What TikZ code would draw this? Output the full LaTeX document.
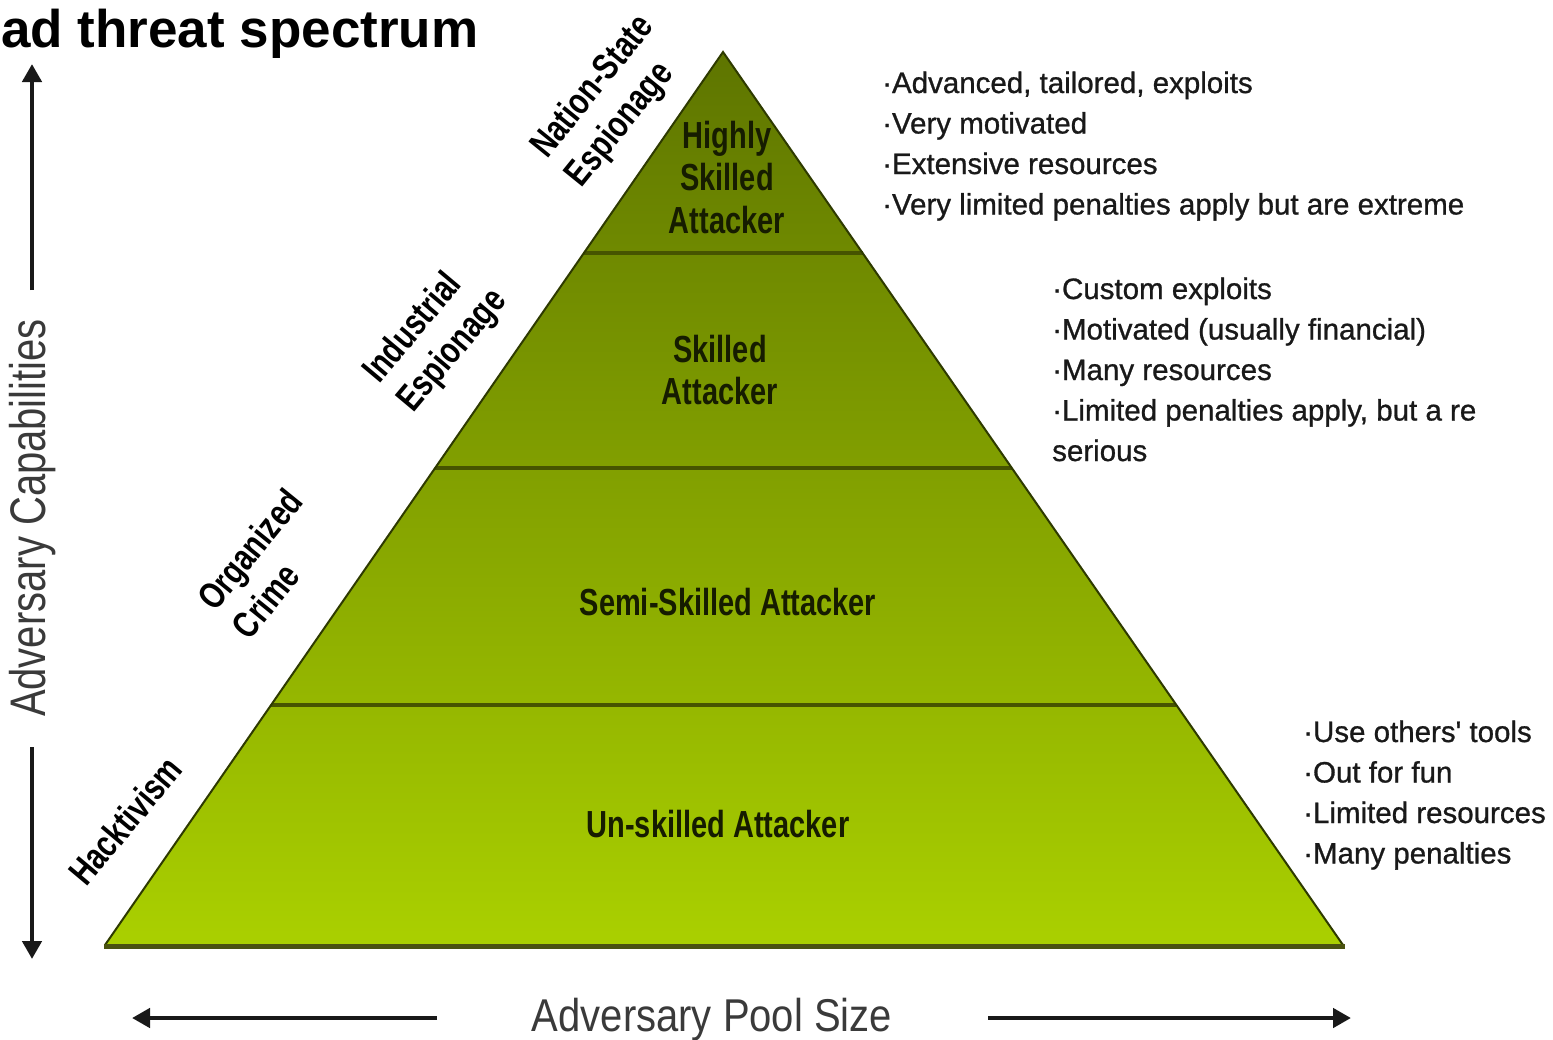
\documentclass[tikz,border=0pt]{standalone}
\usepackage{fontspec}
\setmainfont{Liberation Sans}
\newfontfamily\notefont{Liberation Sans}[FakeBold=0.9]
\usepackage{graphicx}
\usetikzlibrary{arrows.meta,calc}

\definecolor{apexgreen}{RGB}{94,117,0}
\definecolor{midgreen}{RGB}{136,167,0}
\definecolor{basegreen}{RGB}{170,208,0}
\definecolor{edgedark}{RGB}{46,58,0}
\definecolor{tierline}{RGB}{70,84,0}
\definecolor{floorline}{RGB}{74,82,16}
\definecolor{labelink}{RGB}{22,28,0}
\definecolor{axisgray}{RGB}{58,58,58}

\begin{document}
\begin{tikzpicture}[x=1pt,y=-1pt,
  tierlabel/.style={font=\fontsize{29}{33}\selectfont\bfseries, text=labelink, inner sep=0pt, anchor=base},
  sidelabel/.style={font=\fontsize{29}{35}\selectfont\bfseries, text=black, inner sep=0pt, anchor=base west},
  bullets/.style={font=\notefont\fontsize{29.5}{40.5}\selectfont, text=black!90, inner sep=0pt, anchor=base west},
  axislabel/.style={font=\fontsize{40}{48}\selectfont, text=axisgray, inner sep=0pt},
  axisarrow/.style={line width=4.5pt, black!90, -{Triangle[length=18pt,width=19pt]}},
  divider/.style={tierline, line width=3.5pt},
]
\useasboundingbox (0,0) rectangle (1553,1039);

% title
\node[font=\fontsize{53}{60}\selectfont\bfseries, anchor=base west, inner sep=0pt] (title) at (1,47) {ad threat spectrum};

% pyramid corners
\coordinate (apex) at (723,52);
\coordinate (bl) at (105,945);
\coordinate (br) at (1343,945);

% pyramid body with a vertical green gradient
\shade[top color=apexgreen, middle color=midgreen, bottom color=basegreen] (apex) -- (bl) -- (br) -- cycle;

% tier dividers
\draw[divider] ($(apex)!0.2251!(bl)$) -- ($(apex)!0.2251!(br)$);
\draw[divider] ($(apex)!0.4658!(bl)$) -- ($(apex)!0.4658!(br)$);
\draw[divider] ($(apex)!0.7312!(bl)$) -- ($(apex)!0.7312!(br)$);

% outline and floor
\draw[edgedark, line width=2pt, line join=miter] (bl) -- (apex) -- (br);
\draw[floorline, line width=5pt] ($(bl)+(-1,1)$) -- ($(br)+(2,1)$);

% tier labels
\node[tierlabel] (t1) at (727,148) {\scalebox{1}[1.3]{\begin{tabular}[t]{@{}c@{}}Highly\\Skilled\\Attacker\end{tabular}}};
\node[tierlabel] (t2) at (720,362) {\scalebox{1}[1.3]{\begin{tabular}[t]{@{}c@{}}Skilled\\Attacker\end{tabular}}};
\node[tierlabel] (t3) at (728,615) {\scalebox{1}[1.3]{Semi-Skilled Attacker}};
\node[tierlabel] (t4) at (718,837) {\scalebox{1}[1.3]{Un-skilled Attacker}};

% actor labels along the left flank
\node[sidelabel, rotate=51] (s1) at (547,160) {\scalebox{1}[1.28]{\begin{tabular}[t]{@{}l@{}}Nation-State\\Espionage\end{tabular}}};
\node[sidelabel, rotate=50] (s2) at (379,385) {\scalebox{1}[1.28]{\begin{tabular}[t]{@{}l@{}}Industrial\\Espionage\end{tabular}}};
\node[sidelabel, rotate=51] (s3) at (215,613) {\scalebox{1}[1.28]{\begin{tabular}[t]{@{}l@{}}Organized\\Crime\end{tabular}}};
\node[sidelabel, rotate=50] (s4) at (86,888) {\scalebox{1}[1.28]{Hacktivism}};

% characteristics per tier
\node[bullets] (c1) at (882,93) {\begin{tabular}[t]{@{}l@{}}·Advanced, tailored, exploits\\·Very motivated\\·Extensive resources\\·Very limited penalties apply but are extreme\end{tabular}};
\node[bullets] (c2) at (1052,299) {\begin{tabular}[t]{@{}l@{}}·Custom exploits\\·Motivated (usually financial)\\·Many resources\\·Limited penalties apply, but a re\\serious\end{tabular}};
\node[bullets] (c3) at (1303,742) {\begin{tabular}[t]{@{}l@{}}·Use others\char"0027\ tools\\·Out for fun\\·Limited resources\\·Many penalties\end{tabular}};

% vertical axis
\node[axislabel, rotate=90] (capabilities) at (33,518) {\scalebox{1}[1.25]{Adversary Capabilities}};
\coordinate (capTopStart) at (32,290);
\coordinate (capTop) at (32,64);
\coordinate (capBotStart) at (32,747);
\coordinate (capBot) at (32,959);
\draw[axisarrow] (capTopStart) -- (capTop);
\draw[axisarrow] (capBotStart) -- (capBot);

% horizontal axis
\node[axislabel, anchor=base] (pool) at (712,1031) {\scalebox{1}[1.15]{Adversary Pool Size}};
\coordinate (poolLeftStart) at (437,1018);
\coordinate (poolLeft) at (132,1018);
\coordinate (poolRightStart) at (988,1018);
\coordinate (poolRight) at (1351,1018);
\draw[axisarrow] (poolLeftStart) -- (poolLeft);
\draw[axisarrow] (poolRightStart) -- (poolRight);
\end{tikzpicture}
\end{document}
